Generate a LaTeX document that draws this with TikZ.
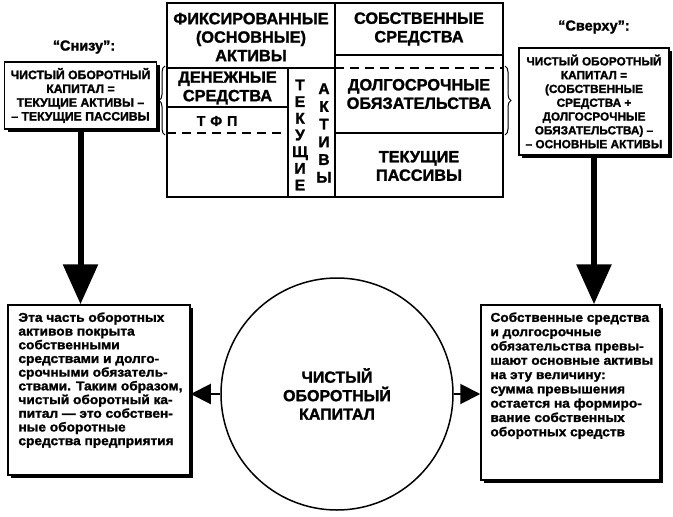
\documentclass[tikz,border=0pt]{standalone}
\usepackage{fontspec}
\setmainfont{Liberation Sans}[BoldFeatures={FakeBold=1.6}]
\newfontfamily\parafont{Liberation Sans}[FakeStretch=1.07, BoldFeatures={FakeBold=1.6}]
\usetikzlibrary{arrows.meta,decorations.pathreplacing}
\begin{document}
\begin{tikzpicture}[x=1pt,y=-1pt,
  tbl/.style={font=\bfseries\fontsize{16.3}{18.5}\selectfont, align=center, inner sep=0pt},
  frameline/.style={line width=2.5pt},
  innerline/.style={line width=2pt},
  dashline/.style={line width=2pt, dash pattern=on 9pt off 6pt},
  box/.style={draw, line width=1.5pt, fill=white, inner sep=0pt,
    preaction={fill=black, transform canvas={shift={(3pt,-3pt)}}}},
  boxtxt/.style={font=\bfseries\fontsize{12.2}{13.8}\selectfont, align=center, inner sep=0pt},
  para/.style={font=\parafont\bfseries\fontsize{12.8}{13.7}\selectfont, align=left, inner sep=0pt, anchor=north west},
  bigarrow/.style={line width=6pt, -{Triangle[length=40pt,width=34pt]}},
  smallarrow/.style={line width=2pt, -{Triangle[length=20pt,width=20pt]}},
  titletxt/.style={font=\bfseries\fontsize{14.5}{16}\selectfont, inner sep=0pt},
  brc/.style={decorate, decoration={brace, amplitude=6pt}, line width=1pt}
]
\useasboundingbox (0,0) rectangle (673,517);

% --- table ---
\draw[frameline] (167,3) rectangle (503,197);
\draw[innerline] (335,3) -- (335,197);
\draw[innerline] (288,68) -- (288,197);
\draw[innerline] (167,68) -- (335,68);
\draw[innerline] (167,107) -- (288,107);
\draw[dashline] (167,133) -- (288,133);
\draw[innerline] (335,55) -- (503,55);
\draw[dashline] (335,68) -- (503,68);
\draw[innerline] (335,133) -- (503,133);

\node[tbl] (fix) at (251,37) {ФИКСИРОВАННЫЕ\\(ОСНОВНЫЕ)\\АКТИВЫ};
\node[tbl] (sob) at (419,29) {СОБСТВЕННЫЕ\\СРЕДСТВА};
\node[tbl] (den) at (227.5,88) {ДЕНЕЖНЫЕ\\СРЕДСТВА};
\node[tbl, font=\bfseries\fontsize{14}{16}\selectfont] (tfp) at (217,121) {Т\hspace{0.35em}Ф\hspace{0.35em}П};
\node[tbl, font=\bfseries\fontsize{15.5}{16.7}\selectfont] (tek) at (300,135) {Т\\Е\\К\\У\\Щ\\И\\Е};
\node[tbl, font=\bfseries\fontsize{15.5}{17.7}\selectfont] (akt) at (324,133) {А\\К\\Т\\И\\В\\Ы};
\node[tbl] (dolg) at (419,94) {ДОЛГОСРОЧНЫЕ\\ОБЯЗАТЕЛЬСТВА};
\node[tbl] (tp) at (419,166) {ТЕКУЩИЕ\\ПАССИВЫ};

% braces
\draw[brc] (165,135) -- (165,66);
\draw[brc] (505,66) -- (505,135);

% --- top side boxes ---
\node[titletxt] (t1) at (84,47) {“Снизу”:};
\node[titletxt] (t2) at (594,27) {“Сверху”:};

\node[box, minimum width=152pt, minimum height=67pt] (snizu) at (80.5,95.5) {};
\node[boxtxt] (snizut) at (snizu.center) {ЧИСТЫЙ ОБОРОТНЫЙ\\КАПИТАЛ =\\ТЕКУЩИЕ АКТИВЫ –\\– ТЕКУЩИЕ ПАССИВЫ};

\node[box, minimum width=150pt, minimum height=107pt] (sverhu) at (594,101.5) {};
\node[boxtxt, font=\bfseries\fontsize{11.8}{13.8}\selectfont] (sverhut) at (sverhu.center) {ЧИСТЫЙ ОБОРОТНЫЙ\\КАПИТАЛ =\\(СОБСТВЕННЫЕ\\СРЕДСТВА +\\ДОЛГОСРОЧНЫЕ\\ОБЯЗАТЕЛЬСТВА) –\\– ОСНОВНЫЕ АКТИВЫ};

% --- bottom boxes ---
\node[box, minimum width=182pt, minimum height=170pt] (bl) at (99,390) {};
\node[para] (blt) at ([shift={(11,8)}]bl.north west) {Эта часть оборотных\\активов покрыта\\собственными\\средствами и долго-\\срочными обязатель-\\ствами. Таким образом,\\чистый оборотный ка-\\питал — это собствен-\\ные оборотные\\средства предприятия};

\node[box, minimum width=179pt, minimum height=175pt] (br) at (570.5,392.5) {};
\node[para, font=\parafont\bfseries\fontsize{12.8}{14.3}\selectfont] (brt) at ([shift={(10,8)}]br.north west) {Собственные средства\\и долгосрочные\\обязательства превы-\\шают основные активы\\на эту величину:\\сумма превышения\\остается на формиро-\\вание собственных\\оборотных средств};

% --- circle ---
\node[circle, draw, line width=1.5pt, minimum size=232pt, inner sep=0pt,
  font=\bfseries\fontsize{16}{18.5}\selectfont, align=center] (c) at (337,394) {ЧИСТЫЙ\\ОБОРОТНЫЙ\\КАПИТАЛ};

% --- arrows ---
\draw[bigarrow] (snizu.south) -- (snizu.south |- bl.north);
\draw[bigarrow] (sverhu.south) -- (sverhu.south |- br.north);
\draw[smallarrow] (c.west) -- (c.west -| bl.east);
\draw[smallarrow] (c.east) -- (c.east -| br.west);
\end{tikzpicture}
\end{document}
